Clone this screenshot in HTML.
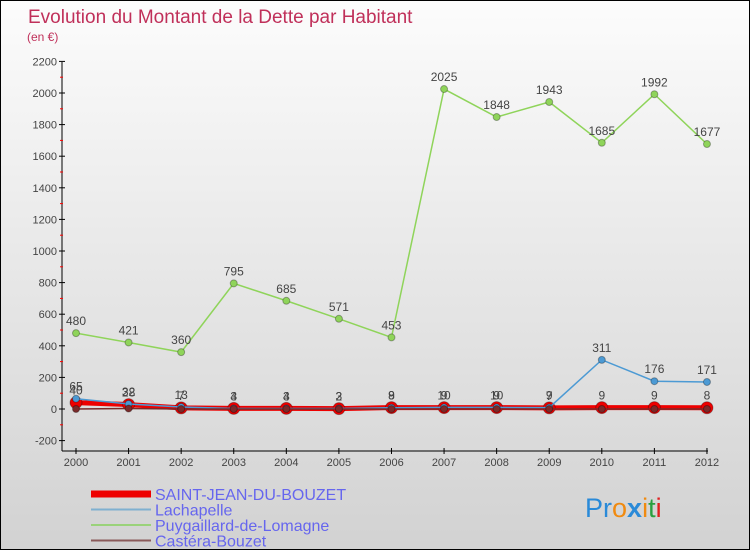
<!DOCTYPE html>
<html><head><meta charset="utf-8"><style>
body{margin:0}
#c{width:750px;height:550px;position:relative;box-sizing:border-box;border:1px solid #000;background:linear-gradient(#fcfcfc,#d2d2d2);font-family:"Liberation Sans",sans-serif;overflow:hidden}
</style></head><body>
<div id="c">
<svg id="s" width="750" height="550"></svg>
</div>
<script>
const years=["2000","2001","2002","2003","2004","2005","2006","2007","2008","2009","2010","2011","2012"];
const yTicks=[-200,0,200,400,600,800,1000,1200,1400,1600,1800,2000,2200];
const saintJean=[40,28,7,4,4,2,9,9,9,7,9,9,8];
const lachapelle=[65,32,13,3,3,3,8,10,10,9,311,176,171];
const puygaillard=[480,421,360,795,685,571,453,2025,1848,1943,1685,1992,1677];
const castera=[0,3,0,0,0,0,0,0,0,0,0,0,0];
const NS="http://www.w3.org/2000/svg";
const s=document.getElementById('s');
const X=i=>75+i*52.58;
const Y=v=>408-v*0.158;
function el(t,a,p){const e=document.createElementNS(NS,t);for(const k in a)e.setAttribute(k,a[k]);(p||s).appendChild(e);return e;}
let t=el('text',{x:27,y:22,'font-size':19,fill:'#c0305a'});t.textContent='Evolution du Montant de la Dette par Habitant';

t=el('text',{x:26,y:40,'font-size':12,fill:'#c0305a'});t.textContent='(en €)';

let a=el('line',{x1:61,y1:61,x2:61,y2:450,stroke:'#000'});

yTicks.forEach(v=>{el('line',{x1:58,x2:64,y1:Y(v),y2:Y(v),stroke:'#000'});
 if(v<2200)el('line',{x1:59,x2:62,y1:Y(v+100),y2:Y(v+100),stroke:'#f00'});
 const l=el('text',{x:56,y:Y(v)+4,'font-size':11,'text-anchor':'end',fill:'#444'});l.textContent=v;
 });
a=el('line',{x1:61,y1:450,x2:707,y2:450,stroke:'#000'});

years.forEach((y,i)=>{el('line',{x1:X(i),x2:X(i),y1:447,y2:453,stroke:'#000'});
 const l=el('text',{x:X(i),y:465,'font-size':11,'text-anchor':'middle',fill:'#444'});l.textContent=y;
 });
function series(d,col,w,r,name,labels){
 const g=el('g',{});
 el('polyline',{points:d.map((v,i)=>X(i)+','+Y(v)).join(' '),fill:'none',stroke:col,'stroke-width':w},g);
 d.forEach((v,i)=>{const c=el('circle',{cx:X(i),cy:Y(v),r:r,fill:col,stroke:'rgba(0,0,0,0.3)'},g);
  
  if(labels){const l=el('text',{x:X(i),y:Y(v)-8,'font-size':12,'text-anchor':'middle',fill:'#444'},g);l.textContent=v;}});
}
series(puygaillard,'#8fd45a',1.5,3.5,'puygaillard',true);
series(saintJean,'#ee0000',5,6,'saint-jean',true);
series(lachapelle,'#4c9ad4',1.5,3.5,'lachapelle',true);
series(castera,'#7a2a2a',1.5,3.5,'castera',false);
const leg=[['SAINT-JEAN-DU-BOUZET','#ee0000',7],['Lachapelle','#7fb0d0',2],['Puygaillard-de-Lomagne','#9ad27a',2],['Castéra-Bouzet','#8a5a5a',2]];
leg.forEach((L,i)=>{const y=493+i*15.5;
 const g=el('g',{});
 el('line',{x1:90,x2:150,y1:y,y2:y,stroke:L[1],'stroke-width':L[2]},g);
 const l=el('text',{x:154,y:y+6,'font-size':16,fill:'#6666ee'},g);l.textContent=L[0];});
const p=el('text',{x:584,y:516,'font-size':27});

[['P','#2a8ad8'],['r','#2a8ad8'],['o','#f08a10'],['x','#2a8ad8'],['i','#f08a10'],['t','#2aa040'],['i','#e02020']].forEach(c=>{const ts=el('tspan',{fill:c[1],'font-weight':c[0]==='x'?'bold':'normal'},p);ts.textContent=c[0];});
</script>
</body></html>
